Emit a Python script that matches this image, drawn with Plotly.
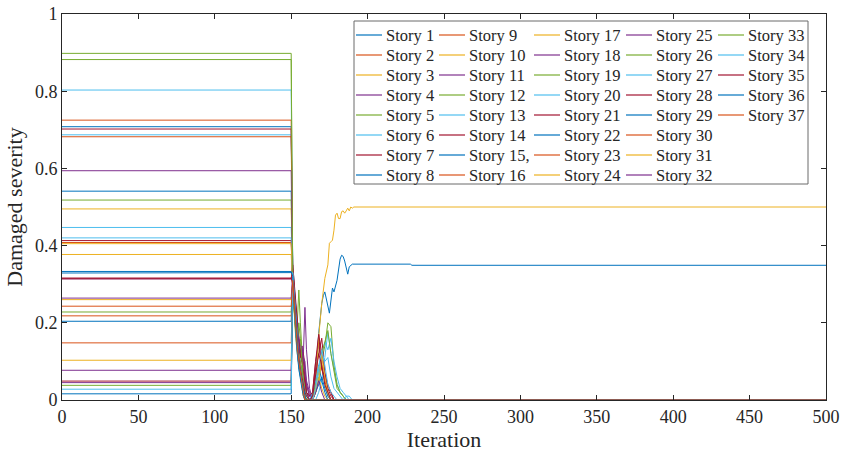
import plotly.graph_objects as go

# ---------------- data ----------------
story_names = [
    "Story 1", "Story 2", "Story 3", "Story 4", "Story 5", "Story 6", "Story 7", "Story 8",
    "Story 9", "Story 10", "Story 11", "Story 12", "Story 13", "Story 14", "Story 15,", "Story 16",
    "Story 17", "Story 18", "Story 19", "Story 20", "Story 21", "Story 22", "Story 23", "Story 24",
    "Story 25", "Story 26", "Story 27", "Story 28", "Story 29", "Story 30", "Story 31", "Story 32",
    "Story 33", "Story 34", "Story 35", "Story 36", "Story 37",
]

# severity held during iterations 0..150
initial_severity = [
    0.708, 0.218, 0.377, 0.077, 0.882, 0.687, 0.049, 0.329,
    0.682, 0.103, 0.314, 0.228, 0.803, 0.413, 0.541, 0.408,
    0.495, 0.045, 0.038, 0.447, 0.702, 0.204, 0.148, 0.260,
    0.264, 0.518, 0.420, 0.314, 0.016, 0.725, 0.405, 0.594,
    0.898, 0.028, 0.316, 0.333, 0.243,
]
hold_iters = [0, 150]

# transient iterations shared by most stories
trans_iters = [151, 152, 153, 154, 155, 156, 157, 158, 159, 160, 162, 164, 166,
               168, 170, 172, 174, 176, 178, 180, 182, 184, 186, 188, 190, 193]

trans_values = [
    [0.35, 0.30, 0.22, 0.17, 0.12, 0.09, 0.06, 0.03, 0.01, 0],                       # 1
    [0.31, 0.26, 0.21, 0.16, 0.12, 0.08, 0.05, 0.02, 0],                             # 2
    [0.30, 0.24, 0.19, 0.14, 0.10, 0.07, 0.04, 0.02, 0.01, 0],                       # 3
    [0.32, 0.28, 0.22, 0.18, 0.15, 0.12, 0.10, 0.12, 0.06, 0.02, 0],                 # 4
    [0.30, 0.22, 0.17, 0.20, 0.285, 0.20, 0.12, 0.06, 0.03, 0.01, 0],                # 5
    [0.31, 0.25, 0.18, 0.12, 0.08, 0.06, 0.09, 0.05, 0.03, 0.01, 0, 0, 0, 0.02,
     0.05, 0.11, 0.175, 0.12, 0.08, 0.04, 0.02, 0.01, 0],                            # 6
    [0.33, 0.27, 0.20, 0.15, 0.10, 0.07, 0.05, 0.03, 0.01, 0, 0, 0, 0.03, 0.17,
     0.08, 0.05, 0.02, 0],                                                           # 7
    None,                                                                            # 8 (own data)
    [0.30, 0.24, 0.19, 0.15, 0.11, 0.08, 0.06, 0.04, 0.02, 0.01, 0],                 # 9
    [0.28, 0.22, 0.18, 0.14, 0.10, 0.07, 0.05, 0.03, 0.02, 0.01, 0, 0, 0.02, 0.06,
     0.03, 0.01, 0],                                                                 # 10
    [0.33, 0.28, 0.24, 0.20, 0.16, 0.12, 0.10, 0.12, 0.24, 0.13, 0.03, 0],           # 11
    [0.31, 0.26, 0.20, 0.15, 0.11, 0.07, 0.05, 0.03, 0.01, 0, 0, 0, 0.02, 0.05,
     0.10, 0.14, 0.20, 0.19, 0.09, 0.04, 0.02, 0.01, 0],                             # 12
    [0.34, 0.28, 0.21, 0.15, 0.10, 0.07, 0.04, 0.02, 0],                             # 13
    [0.32, 0.27, 0.22, 0.17, 0.14, 0.12, 0.14, 0.10, 0.05, 0.02, 0, 0.01, 0.08,
     0.12, 0.16, 0.07, 0.03, 0.01, 0],                                               # 14
    [0.30, 0.25, 0.20, 0.16, 0.12, 0.09, 0.06, 0.03, 0.01, 0, 0, 0.02, 0.05, 0.09,
     0.05, 0.02, 0],                                                                 # 15
    [0.29, 0.23, 0.17, 0.13, 0.09, 0.06, 0.04, 0.02, 0],                             # 16
    [0.31, 0.25, 0.19, 0.14, 0.10, 0.07, 0.05, 0.03, 0.02, 0.01, 0, 0, 0.02, 0.05,
     0.10, 0.04, 0.01, 0],                                                           # 17
    [0.30, 0.27, 0.23, 0.19, 0.14, 0.12, 0.10, 0.07, 0.04, 0.02, 0],                 # 18
    [0.29, 0.22, 0.16, 0.12, 0.09, 0.06, 0.04, 0.02, 0.01, 0],                       # 19
    [0.32, 0.26, 0.20, 0.15, 0.11, 0.08, 0.06, 0.04, 0.02, 0.01, 0, 0.01, 0.03,
     0.07, 0.12, 0.15, 0.13, 0.16, 0.10, 0.06, 0.03, 0.02, 0.01, 0.01, 0],           # 20
    [0.34, 0.29, 0.23, 0.18, 0.14, 0.11, 0.13, 0.12, 0.08, 0.04, 0.01, 0.02, 0.10,
     0.15, 0.08, 0.06, 0.03, 0.02, 0],                                               # 21
    [0.31, 0.25, 0.19, 0.14, 0.10, 0.07, 0.04, 0.02, 0.01, 0, 0, 0, 0.02, 0.04,
     0.06, 0.03, 0.01, 0],                                                           # 22
    [0.30, 0.24, 0.18, 0.13, 0.09, 0.06, 0.03, 0.01, 0],                             # 23
    None,                                                                            # 24 (own data)
    [0.33, 0.27, 0.22, 0.18, 0.15, 0.12, 0.14, 0.11, 0.07, 0.04, 0.01, 0, 0.02,
     0.05, 0.02, 0],                                                                 # 25
    [0.32, 0.25, 0.19, 0.14, 0.12, 0.10, 0.08, 0.05, 0.03, 0.01, 0, 0.01, 0.04,
     0.08, 0.12, 0.15, 0.18, 0.12, 0.07, 0.03, 0.02, 0.01, 0],                       # 26
    [0.30, 0.24, 0.18, 0.13, 0.09, 0.06, 0.04, 0.02, 0.01, 0, 0, 0.02, 0.05, 0.09,
     0.12, 0.10, 0.11, 0.06, 0.03, 0.02, 0.01, 0, 0.01, 0],                          # 27
    [0.35, 0.30, 0.25, 0.20, 0.16, 0.13, 0.10, 0.08, 0.05, 0.02, 0.01, 0.02, 0.10,
     0.17, 0.12, 0.07, 0.04, 0.02, 0],                                               # 28
    [0.29, 0.23, 0.17, 0.12, 0.08, 0.05, 0.03, 0.01, 0],                             # 29
    [0.32, 0.26, 0.20, 0.15, 0.11, 0.08, 0.05, 0.03, 0.01, 0],                       # 30
    [0.30, 0.25, 0.20, 0.15, 0.11, 0.08, 0.05, 0.03, 0.01, 0, 0, 0, 0.03, 0.08,
     0.12, 0.06, 0.02, 0],                                                           # 31
    [0.31, 0.27, 0.22, 0.19, 0.16, 0.14, 0.12, 0.11, 0.10, 0.05, 0.02, 0],           # 32
    [0.30, 0.24, 0.19, 0.15, 0.20, 0.16, 0.10, 0.05, 0.02, 0],                       # 33
    [0.33, 0.27, 0.21, 0.16, 0.11, 0.08, 0.06, 0.04, 0.02, 0.01, 0, 0, 0.03, 0.08,
     0.13, 0.09, 0.04, 0.02, 0.01, 0],                                               # 34
    [0.30, 0.25, 0.20, 0.15, 0.11, 0.08, 0.06, 0.04, 0.02, 0.01, 0, 0.01, 0.06,
     0.12, 0.09, 0.04, 0.02, 0],                                                     # 35
    [0.32, 0.26, 0.20, 0.15, 0.10, 0.07, 0.05, 0.03, 0.01, 0],                       # 36
    [0.31, 0.25, 0.19, 0.14, 0.10, 0.07, 0.04, 0.02, 0],                             # 37
]

story8_iters = [151, 152, 153, 154, 155, 156, 157, 158, 160, 164, 166, 168, 170, 171,
                172, 173, 175, 177, 178, 180, 182, 183, 184, 185, 187, 188, 190, 228, 229]
story8_values = [0.33, 0.26, 0.20, 0.15, 0.10, 0.07, 0.04, 0.02, 0, 0, 0.05, 0.173, 0.25,
                 0.27, 0.28, 0.26, 0.225, 0.29, 0.28, 0.31, 0.365, 0.375, 0.372, 0.36,
                 0.326, 0.345, 0.352, 0.352, 0.349]

story24_iters = [151, 152, 153, 154, 155, 156, 157, 158, 160, 164, 166, 168, 170, 172,
                 174, 175, 176, 177, 178, 179, 180, 181, 182, 183, 184, 185, 186, 187,
                 188, 189, 190, 191]
story24_values = [0.30, 0.24, 0.18, 0.13, 0.09, 0.06, 0.03, 0.01, 0, 0, 0.03, 0.164, 0.25,
                  0.315, 0.35, 0.406, 0.41, 0.414, 0.44, 0.479, 0.484, 0.47, 0.47, 0.488,
                  0.49, 0.484, 0.49, 0.497, 0.49, 0.5, 0.497, 0.5]

last_iter = 500

# ---------------- style ----------------
matlab_colors = ["#0072BD", "#D95319", "#EDB120", "#7E2F8E", "#77AC30", "#4DBEEE", "#A2142F"]
FONT = "Liberation Serif"
TXT = "#262626"

W, H = 847, 457
ML, MR, MT, MB = 62, 21, 14, 57
PW, PH = W - ML - MR, H - MT - MB


def px_to_paper_x(px):
    return (px - ML) / PW


def px_to_paper_y(py):
    return (H - MB - py) / PH


legend_text_x = [385, 468, 563, 655, 747]   # pixel x where each legend column's text starts
legend_row_y0, legend_row_dy = 35, 20        # pixel y of first row centre and row pitch

fig = go.Figure()
annotations = []
shapes = []
for i, name in enumerate(story_names):
    if i == 7:
        xs = hold_iters + story8_iters
        ys = [initial_severity[i]] * 2 + story8_values
    elif i == 23:
        xs = hold_iters + story24_iters
        ys = [initial_severity[i]] * 2 + story24_values
    else:
        row = trans_values[i]
        xs = hold_iters + trans_iters[:len(row)]
        ys = [initial_severity[i]] * 2 + row
    xs = xs + [last_iter]
    ys = ys + [ys[-1]]
    color = matlab_colors[i % 7]
    fig.add_trace(go.Scatter(
        x=xs, y=ys, mode="lines", name=name,
        line=dict(color=color, width=1), showlegend=False, hoverinfo="skip",
    ))

    # legend entry (column-major, 8 rows)
    col, r = divmod(i, 8)
    tx = legend_text_x[col]
    ty = legend_row_y0 + r * legend_row_dy
    shapes.append(dict(type="line", xref="paper", yref="paper",
                       x0=px_to_paper_x(tx - 29), x1=px_to_paper_x(tx - 3),
                       y0=px_to_paper_y(ty), y1=px_to_paper_y(ty),
                       line=dict(color=color, width=1.2), layer="above"))
    annotations.append(dict(text=name, xref="paper", yref="paper",
                            x=px_to_paper_x(tx - 1), y=px_to_paper_y(ty + 0.5),
                            xanchor="left", yanchor="middle", showarrow=False,
                            font=dict(family=FONT, size=16.5, color=TXT)))

# legend frame
shapes.append(dict(type="rect", xref="paper", yref="paper",
                   x0=px_to_paper_x(354), x1=px_to_paper_x(808),
                   y0=px_to_paper_y(184), y1=px_to_paper_y(21),
                   line=dict(color="#6a6a6a", width=1), fillcolor="rgba(0,0,0,0)", layer="above"))

axis_common = dict(
    showline=True, linecolor=TXT, linewidth=1, mirror="ticks",
    ticks="inside", ticklen=5, tickwidth=1, tickcolor=TXT,
    showgrid=False, zeroline=False,
    tickfont=dict(family=FONT, size=18, color=TXT),
)

fig.update_layout(
    width=W, height=H, template="none",
    margin=dict(l=ML, r=MR, t=MT, b=MB),
    paper_bgcolor="white", plot_bgcolor="white",
    font=dict(family=FONT, color=TXT, size=18),
    showlegend=False,
    xaxis=dict(range=[0, 500], tick0=0, dtick=50,
               title=dict(text="Iteration", font=dict(family=FONT, size=22, color=TXT), standoff=4),
               **axis_common),
    yaxis=dict(range=[0, 1], tick0=0, dtick=0.2,
               title=dict(text="Damaged severity", font=dict(family=FONT, size=22, color=TXT), standoff=6),
               **axis_common),
    annotations=annotations,
    shapes=shapes,
)

fig.write_html("out.html")
